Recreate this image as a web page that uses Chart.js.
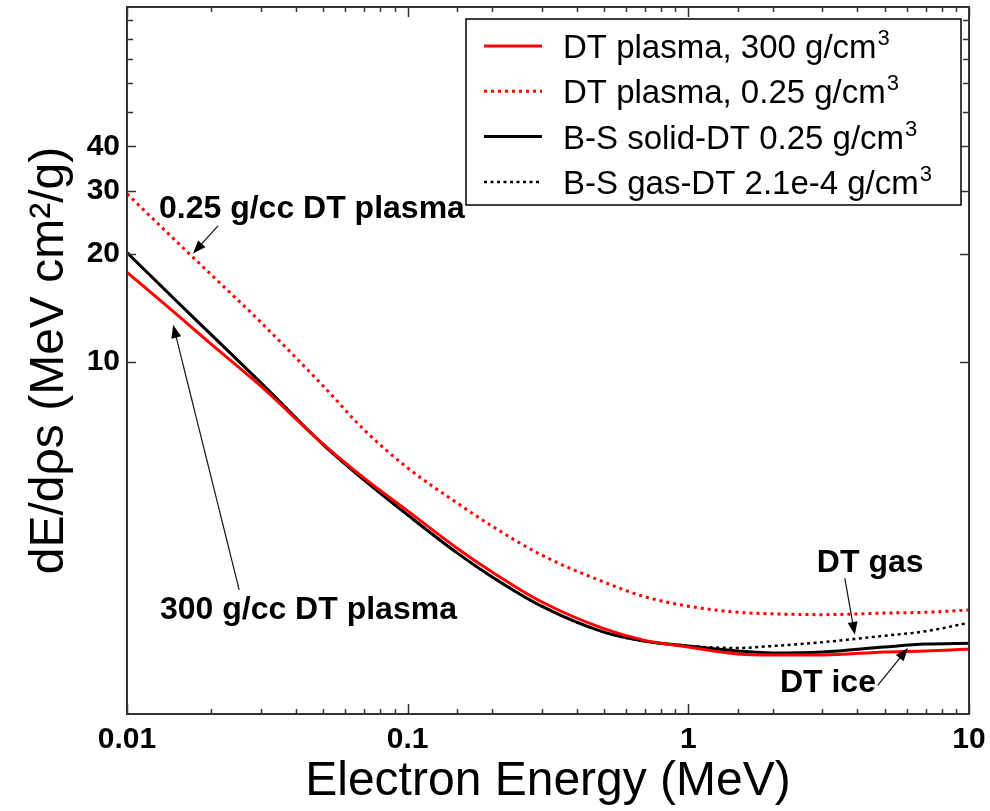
<!DOCTYPE html>
<html>
<head>
<meta charset="utf-8">
<title>Electron stopping power</title>
<script src="https://cdn.jsdelivr.net/npm/chart.js@4.4.1/dist/chart.umd.min.js"></script>
<style>
  html, body { margin: 0; padding: 0; background: #fff; }
  #wrap { width: 990px; height: 811px; }
</style>
</head>
<body>
<div id="wrap"><canvas id="chart" width="990" height="811"></canvas></div>
<script>
// electron energy (MeV)
const energy = [0.01, 0.015, 0.02, 0.03, 0.05, 0.07, 0.1, 0.15, 0.2, 0.3, 0.5, 0.7, 1, 1.5, 2, 3, 5, 7, 10];

// dE/dρs (MeV cm2/g)
const plasma300 = [17.8, 13.6, 11.2, 8.56, 5.90, 4.74, 3.84, 3.02, 2.59, 2.14, 1.80, 1.67, 1.60, 1.53, 1.52, 1.52, 1.55, 1.56, 1.58];
const plasma025 = [29.5, 21.7, 17.5, 12.9, 8.57, 6.46, 5.06, 4.04, 3.48, 2.89, 2.43, 2.21, 2.08, 2.00, 1.98, 1.97, 1.99, 2.00, 2.03];
const bsSolid = [20.2, 14.8, 11.9, 8.75, 5.88, 4.68, 3.74, 2.93, 2.51, 2.08, 1.76, 1.66, 1.61, 1.56, 1.54, 1.55, 1.60, 1.63, 1.64];
const bsGas = [20.2, 14.8, 11.9, 8.75, 5.88, 4.68, 3.74, 2.93, 2.51, 2.08, 1.76, 1.66, 1.61, 1.59, 1.61, 1.65, 1.72, 1.77, 1.87];

const seriesLabels = [
  'DT plasma, 300 g/cm³',
  'DT plasma, 0.25 g/cm³',
  'B-S solid-DT 0.25 g/cm³',
  'B-S gas-DT 2.1e-4 g/cm³'
];

// axis ticks
const xTickLabels = { 0.01: '0.01', 0.1: '0.1', 1: '1', 10: '10' };
const yTicks = [10, 20, 30, 40, 50, 60, 70, 80, 90];
const yTickLabels = [10, 20, 30, 40];

// annotations (text anchor and arrow in data units)
const notes = [
  { text: '0.25 g/cc DT plasma', at: [0.0130, 26.7], from: [0.0211, 24.0], to: [0.0172, 20.1] },
  { text: '300 g/cc DT plasma', at: [0.0131, 2.03], from: [0.0251, 2.31], to: [0.0146, 12.7] },
  { text: 'DT gas', at: [2.87, 2.75], from: [3.61, 2.49], to: [3.92, 1.73] },
  { text: 'DT ice', at: [2.12, 1.27], from: [4.73, 1.25], to: [6.06, 1.59] }
];

const FONT = '"Liberation Sans", Arial, Helvetica, sans-serif';

function toPoints(ys) {
  return energy.map((e, i) => ({ x: e, y: ys[i] }));
}

function isDecade(v) {
  const l = Math.log10(v);
  return Math.abs(l - Math.round(l)) < 1e-6;
}

// 去掉刻度标签带来的额外边距
function noPad(s) {
  s.paddingTop = 0;
  s.paddingBottom = 0;
  s.paddingLeft = 0;
  s.paddingRight = 0;
}

// 边框 + 向内刻度（四边）
const frameTicks = {
  id: 'frameTicks',
  afterDraw(chart) {
    const { ctx, chartArea: a, scales: { x, y } } = chart;
    ctx.save();
    ctx.strokeStyle = '#333';
    ctx.lineWidth = 2;
    ctx.strokeRect(a.left, a.top, a.right - a.left, a.bottom - a.top);
    ctx.lineWidth = 1.5;
    ctx.beginPath();
    x.ticks.forEach(t => {
      const px = Math.round(x.getPixelForValue(t.value)) + 0.5;
      const len = isDecade(t.value) ? 10 : 5;
      ctx.moveTo(px, a.bottom); ctx.lineTo(px, a.bottom - len);
      ctx.moveTo(px, a.top); ctx.lineTo(px, a.top + len);
    });
    y.ticks.forEach(t => {
      const py = Math.round(y.getPixelForValue(t.value)) + 0.5;
      const len = yTickLabels.includes(t.value) ? 9 : 6;
      ctx.moveTo(a.left, py); ctx.lineTo(a.left + len, py);
      ctx.moveTo(a.right, py); ctx.lineTo(a.right - len, py);
    });
    ctx.stroke();
    ctx.restore();
  }
};

// 带边框的图例（放在绘图区内右上角）
const boxLegend = {
  id: 'boxLegend',
  afterDraw(chart) {
    const { ctx, chartArea: a } = chart;
    const w = 495, h = 186;
    const left = a.right - 503, top = a.top + 12;
    ctx.save();
    ctx.fillStyle = '#fff';
    ctx.fillRect(left, top, w, h);
    ctx.strokeStyle = '#000';
    ctx.lineWidth = 1.5;
    ctx.strokeRect(left, top, w, h);

    chart.data.datasets.forEach((ds, i) => {
      const cy = top + 27 + i * 45.3;
      ctx.strokeStyle = ds.borderColor;
      ctx.lineWidth = ds.borderWidth;
      ctx.setLineDash(ds.borderDash || []);
      ctx.beginPath();
      ctx.moveTo(left + 18, cy);
      ctx.lineTo(left + 76, cy);
      ctx.stroke();
      ctx.setLineDash([]);

      let label = ds.label;
      let sup = '';
      if (label.endsWith('³')) { label = label.slice(0, -1); sup = '3'; }
      ctx.fillStyle = '#000';
      ctx.textBaseline = 'alphabetic';
      ctx.textAlign = 'left';
      ctx.font = '33px ' + FONT;
      const tx = left + 97;
      ctx.fillText(label, tx, cy + 12);
      if (sup) {
        const tw = ctx.measureText(label).width;
        ctx.font = '22px ' + FONT;
        ctx.fillText(sup, tx + tw + 1, cy - 1);
      }
    });
    ctx.restore();
  }
};

// 文字标注 + 箭头
function drawArrow(ctx, x1, y1, x2, y2) {
  const ang = Math.atan2(y2 - y1, x2 - x1);
  const len = 13, half = 5;
  ctx.beginPath();
  ctx.moveTo(x1, y1);
  ctx.lineTo(x2 - Math.cos(ang) * len * 0.8, y2 - Math.sin(ang) * len * 0.8);
  ctx.stroke();
  ctx.beginPath();
  ctx.moveTo(x2, y2);
  ctx.lineTo(x2 - Math.cos(ang) * len + Math.sin(ang) * half, y2 - Math.sin(ang) * len - Math.cos(ang) * half);
  ctx.lineTo(x2 - Math.cos(ang) * len - Math.sin(ang) * half, y2 - Math.sin(ang) * len + Math.cos(ang) * half);
  ctx.closePath();
  ctx.fill();
}

const notePlugin = {
  id: 'notes',
  afterDraw(chart) {
    const { ctx, scales: { x, y } } = chart;
    ctx.save();
    ctx.fillStyle = '#000';
    ctx.strokeStyle = '#111';
    ctx.lineWidth = 1.2;
    notes.forEach(n => {
      drawArrow(ctx,
        x.getPixelForValue(n.from[0]), y.getPixelForValue(n.from[1]),
        x.getPixelForValue(n.to[0]), y.getPixelForValue(n.to[1]));
      ctx.font = 'bold 32px ' + FONT;
      ctx.textAlign = 'left';
      ctx.textBaseline = 'middle';
      ctx.fillText(n.text, x.getPixelForValue(n.at[0]), y.getPixelForValue(n.at[1]));
    });
    ctx.restore();
  }
};

const ctx = document.getElementById('chart').getContext('2d');
new Chart(ctx, {
  type: 'line',
  data: {
    datasets: [
      { label: seriesLabels[0], data: toPoints(plasma300), borderColor: '#ff0000', borderWidth: 3 },
      { label: seriesLabels[1], data: toPoints(plasma025), borderColor: '#ff0000', borderWidth: 3, borderDash: [3, 4] },
      { label: seriesLabels[2], data: toPoints(bsSolid), borderColor: '#000000', borderWidth: 3 },
      { label: seriesLabels[3], data: toPoints(bsGas), borderColor: '#000000', borderWidth: 2.5, borderDash: [3, 3.5] }
    ]
  },
  options: {
    responsive: false,
    animation: false,
    devicePixelRatio: 1,
    layout: { padding: { top: 7, right: 21, left: 0, bottom: 0 } },
    elements: {
      point: { radius: 0 },
      line: { cubicInterpolationMode: 'monotone', fill: false }
    },
    plugins: {
      legend: { display: false },
      tooltip: { enabled: false }
    },
    scales: {
      x: {
        type: 'logarithmic',
        min: 0.01,
        max: 10,
        grid: { display: false, drawTicks: false },
        border: { display: false },
        afterFit: s => { s.height = 97; noPad(s); },
        ticks: {
          autoSkip: false,
          maxRotation: 0,
          padding: 8,
          color: '#000',
          font: { family: FONT, size: 30, weight: 'bold' },
          callback: v => xTickLabels[v] || ''
        },
        title: {
          display: true,
          text: 'Electron Energy (MeV)',
          color: '#000',
          padding: 0,
          font: { family: FONT, size: 48 }
        }
      },
      y: {
        type: 'logarithmic',
        min: 1.04,
        max: 98,
        grid: { display: false, drawTicks: false },
        border: { display: false },
        afterBuildTicks: s => { s.ticks = yTicks.map(v => ({ value: v })); },
        afterFit: s => { s.width = 127; noPad(s); },
        ticks: {
          autoSkip: false,
          padding: 7,
          color: '#000',
          font: { family: FONT, size: 30, weight: 'bold' },
          callback: v => yTickLabels.includes(v) ? String(v) : ''
        },
        title: {
          display: true,
          text: 'dE/dρs (MeV cm²/g)',
          color: '#000',
          padding: { top: 21, bottom: 0 },
          font: { family: FONT, size: 48 }
        }
      }
    }
  },
  plugins: [frameTicks, boxLegend, notePlugin]
});
</script>
</body>
</html>
